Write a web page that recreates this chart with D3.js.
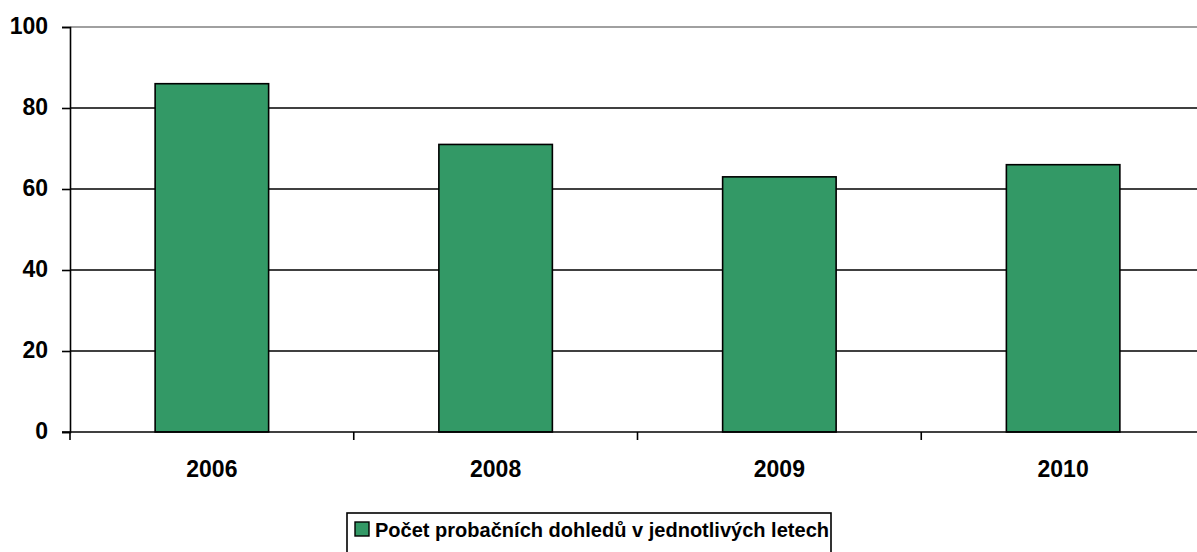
<!DOCTYPE html>
<html>
<head>
<meta charset="utf-8">
<script src="https://cdn.jsdelivr.net/npm/d3@7"></script>
<style>
  body { margin: 0; background: #fff; }
  text { font-family: "Liberation Sans", Arial, sans-serif; font-weight: bold; }
</style>
</head>
<body>
<div id="body"></div>
<script>
var years = ["2006", "2008", "2009", "2010"];
var values = [86, 71, 63, 66];
var yTicks = [0, 20, 40, 60, 80, 100];
var seriesName = "Počet probačních dohledů v jednotlivých letech";

var margin = {top: 27, right: 0, bottom: 120, left: 70},
width = 1135,
height = 432 - 27;

var svg = d3.select("#body")
  .append("svg")
  .attr("width", 1197)
  .attr("height", 552);

var chart = svg.append("g")
  .attr("transform", "translate(" + margin.left + "," + margin.top + ")");

var x = d3.scaleBand()
  .domain(years)
  .range([0, width])
  .paddingInner(0.6)
  .paddingOuter(0.3);

var xStep = d3.scaleBand().domain(years).range([0, width]);

var y = d3.scaleLinear()
  .domain([0, 100])
  .range([height, 0]);

// gridlines
chart.selectAll("line.grid")
  .data(yTicks.filter(function(d) { return d > 0; }))
  .enter().append("line")
  .attr("class", "grid")
  .attr("x1", 0)
  .attr("x2", width)
  .attr("y1", function(d) { return y(d); })
  .attr("y2", function(d) { return y(d); })
  .attr("stroke", function(d) { return d === 100 ? "#808080" : "#000"; })
  .attr("stroke-width", 1.6);

// bars
chart.selectAll("rect.bar")
  .data(values)
  .enter().append("rect")
  .attr("class", "bar")
  .attr("x", function(d, i) { return x(years[i]); })
  .attr("width", x.bandwidth())
  .attr("y", function(d) { return y(d); })
  .attr("height", function(d) { return height - y(d); })
  .attr("fill", "#339966")
  .attr("stroke", "#000")
  .attr("stroke-width", 1.6);

// y axis
var leftAxis = d3.axisLeft(y).tickValues(yTicks).tickSize(8).tickPadding(14);
var gy = chart.append("g").call(leftAxis);
gy.select(".domain").attr("stroke", "#000").attr("stroke-width", 1.6);
gy.selectAll(".tick line").attr("stroke", "#000").attr("stroke-width", 1.6);
gy.selectAll(".tick text")
  .attr("font-size", 23)
  .attr("font-family", "Liberation Sans, Arial, sans-serif")
  .attr("font-weight", "bold")
  .attr("dy", "0.28em")
  .attr("fill", "#000");

// x axis
var gx = chart.append("g").attr("transform", "translate(0," + height + ")");
gx.append("line")
  .attr("x1", -8).attr("x2", width)
  .attr("stroke", "#000").attr("stroke-width", 1.6);
gx.selectAll("line.xtick")
  .data(years)
  .enter().append("line")
  .attr("class", "xtick")
  .attr("x1", function(d) { return xStep(d); })
  .attr("x2", function(d) { return xStep(d); })
  .attr("y1", 0).attr("y2", 8)
  .attr("stroke", "#000").attr("stroke-width", 1.6);
gx.selectAll("text.xlabel")
  .data(years)
  .enter().append("text")
  .attr("class", "xlabel")
  .attr("x", function(d) { return xStep(d) + xStep.bandwidth() / 2; })
  .attr("y", 45)
  .attr("text-anchor", "middle")
  .attr("font-size", 23)
  .text(function(d) { return d; });

// legend
var legend = svg.append("g").attr("transform", "translate(347,513)");
legend.append("rect")
  .attr("width", 484).attr("height", 50)
  .attr("fill", "#fff").attr("stroke", "#000").attr("stroke-width", 1.6);
legend.append("rect")
  .attr("x", 8).attr("y", 9).attr("width", 14).attr("height", 14)
  .attr("fill", "#339966").attr("stroke", "#000").attr("stroke-width", 1.4);
legend.append("text")
  .attr("x", 28).attr("y", 24)
  .attr("font-size", 21)
  .attr("textLength", 454)
  .attr("lengthAdjust", "spacingAndGlyphs")
  .text(seriesName);
</script>
</body>
</html>
